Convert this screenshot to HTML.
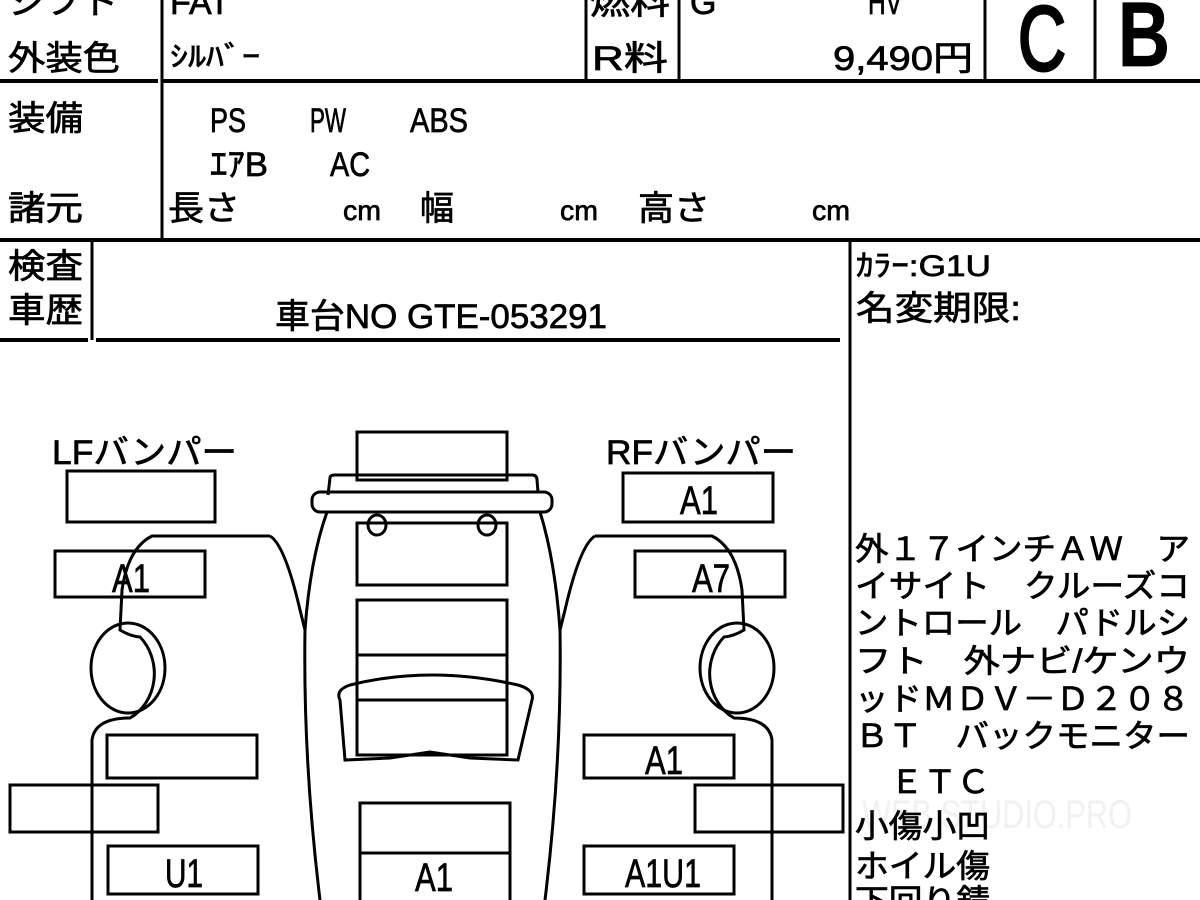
<!DOCTYPE html>
<html><head><meta charset="utf-8"><style>
html,body{margin:0;padding:0;background:#fff;}
svg{display:block}
text{font-family:"Liberation Sans","Noto Sans CJK JP",sans-serif;fill:#000;stroke:#000;stroke-width:0.7;}
</style></head><body>
<svg width="1200" height="900" viewBox="0 0 1200 900" xmlns="http://www.w3.org/2000/svg">
<g stroke="#000" fill="none">
<line x1="0" y1="81" x2="158" y2="81" stroke-width="4"/>
<line x1="162" y1="81" x2="1200" y2="81" stroke-width="4"/>
<line x1="162" y1="0" x2="162" y2="240" stroke-width="3"/>
<line x1="586" y1="0" x2="586" y2="80" stroke-width="3"/>
<line x1="679" y1="0" x2="679" y2="80" stroke-width="3"/>
<line x1="985" y1="0" x2="985" y2="80" stroke-width="3"/>
<line x1="1095" y1="0" x2="1095" y2="80" stroke-width="3"/>
<line x1="0" y1="240" x2="1200" y2="240" stroke-width="4"/>
<line x1="92" y1="240" x2="92" y2="340" stroke-width="3"/>
<line x1="0" y1="340" x2="88" y2="340" stroke-width="4"/>
<line x1="96" y1="340" x2="840" y2="340" stroke-width="4"/>
<line x1="850" y1="240" x2="850" y2="900" stroke-width="3"/>
</g>
<g font-size="34">
<text x="8" y="14" textLength="110" lengthAdjust="spacingAndGlyphs">シフト</text>
<text x="170" y="14" textLength="60" lengthAdjust="spacingAndGlyphs">FAT</text>
<text x="590" y="14" textLength="80" lengthAdjust="spacingAndGlyphs">燃料</text>
<text x="690" y="14">G</text>
<text x="868" y="14" textLength="34" lengthAdjust="spacingAndGlyphs">HV</text>
<text x="8" y="70" textLength="112" lengthAdjust="spacingAndGlyphs">外装色</text>
<text x="170" y="66" font-size="28" textLength="90" lengthAdjust="spacingAndGlyphs">ｼﾙﾊﾞｰ</text>
<text x="592" y="70" textLength="76" lengthAdjust="spacingAndGlyphs">R料</text>
<text x="833" y="70" textLength="140" lengthAdjust="spacingAndGlyphs">9,490円</text>
<text x="8" y="130" textLength="75" lengthAdjust="spacingAndGlyphs">装備</text>
<text x="210" y="132" textLength="36" lengthAdjust="spacingAndGlyphs">PS</text>
<text x="310" y="132" textLength="36" lengthAdjust="spacingAndGlyphs">PW</text>
<text x="410" y="132" textLength="58" lengthAdjust="spacingAndGlyphs">ABS</text>
<text x="210" y="176" textLength="58" lengthAdjust="spacingAndGlyphs">ｴｱB</text>
<text x="330" y="176" textLength="40" lengthAdjust="spacingAndGlyphs">AC</text>
<text x="8" y="220" textLength="75" lengthAdjust="spacingAndGlyphs">諸元</text>
<text x="168" y="220" textLength="72" lengthAdjust="spacingAndGlyphs">長さ</text>
<text x="343" y="220" font-size="28" textLength="38" lengthAdjust="spacingAndGlyphs">cm</text>
<text x="420" y="220" textLength="34" lengthAdjust="spacingAndGlyphs">幅</text>
<text x="560" y="220" font-size="28" textLength="38" lengthAdjust="spacingAndGlyphs">cm</text>
<text x="638" y="220" textLength="72" lengthAdjust="spacingAndGlyphs">高さ</text>
<text x="812" y="220" font-size="28" textLength="38" lengthAdjust="spacingAndGlyphs">cm</text>
<text x="8" y="278" textLength="75" lengthAdjust="spacingAndGlyphs">検査</text>
<text x="8" y="322" textLength="75" lengthAdjust="spacingAndGlyphs">車歴</text>
<text x="275" y="328" textLength="332" lengthAdjust="spacingAndGlyphs">車台NO GTE-053291</text>
<text x="856" y="276" font-size="30" textLength="135" lengthAdjust="spacingAndGlyphs">ｶﾗｰ:G1U</text>
<text x="856" y="320" textLength="165" lengthAdjust="spacingAndGlyphs">名変期限:</text>
</g>
<text x="1018" y="70" font-size="92" textLength="48" lengthAdjust="spacingAndGlyphs" style="stroke-width:3">C</text>
<text x="1118" y="66" font-size="92" textLength="52" lengthAdjust="spacingAndGlyphs" font-weight="bold">B</text>
<text x="862" y="828" font-size="40" textLength="270" lengthAdjust="spacingAndGlyphs" style="fill:#f1f1f1;stroke:none">WEB STUDIO.PRO</text>
<g font-size="32" style="stroke-width:1">
<text x="855" y="560" textLength="335" lengthAdjust="spacingAndGlyphs">外１７インチＡＷ　ア</text>
<text x="855" y="597" textLength="335" lengthAdjust="spacingAndGlyphs">イサイト　クルーズコ</text>
<text x="855" y="634" textLength="335" lengthAdjust="spacingAndGlyphs">ントロール　パドルシ</text>
<text x="855" y="672" textLength="335" lengthAdjust="spacingAndGlyphs">フト　外ナビ/ケンウ</text>
<text x="855" y="710" textLength="335" lengthAdjust="spacingAndGlyphs">ッドＭＤＶ－Ｄ２０８</text>
<text x="855" y="747" textLength="335" lengthAdjust="spacingAndGlyphs">ＢＴ　バックモニター</text>
<text x="890" y="793" textLength="100" lengthAdjust="spacingAndGlyphs">ＥＴＣ</text>
<text x="855" y="837" textLength="135" lengthAdjust="spacingAndGlyphs">小傷小凹</text>
<text x="855" y="877" textLength="135" lengthAdjust="spacingAndGlyphs">ホイル傷</text>
<text x="855" y="912" textLength="135" lengthAdjust="spacingAndGlyphs">下回り錆</text>
</g>
<g font-size="34">
<text x="52" y="464" textLength="185" lengthAdjust="spacingAndGlyphs">LFバンパー</text>
<text x="606" y="464" textLength="190" lengthAdjust="spacingAndGlyphs">RFバンパー</text>
</g>
<g stroke="#000" stroke-width="3" fill="none">
<rect x="67" y="471" width="148" height="51"/>
<rect x="623" y="473" width="150" height="49"/>
<rect x="357" y="432" width="150" height="48"/>
<rect x="357" y="523" width="150" height="62"/>
<rect x="357" y="600" width="150" height="55"/>
<rect x="357" y="655" width="150" height="45"/>
<rect x="357" y="700" width="150" height="55"/>
<rect x="55" y="551" width="150" height="46"/>
<rect x="635" y="551" width="150" height="46"/>
<rect x="107" y="735" width="150" height="43"/>
<rect x="584" y="735" width="150" height="43"/>
<rect x="10" y="785" width="148" height="47"/>
<rect x="695" y="785" width="148" height="47"/>
<rect x="108" y="846" width="150" height="48"/>
<rect x="584" y="846" width="150" height="48"/>
<rect x="360" y="803" width="150" height="50"/>
<rect x="360" y="853" width="150" height="50"/>
<path d="M328 495 L330 478 Q330 475 335 475 L532 475 Q537 475 537 480 L538 492"/>
<rect x="312" y="492" width="240" height="20" rx="8"/>
<ellipse cx="377" cy="525" rx="9" ry="10"/>
<ellipse cx="487" cy="525" rx="9" ry="10"/>
<path d="M340 700 Q335 690 350 685 Q430 665 518 685 Q535 690 532 700 L518 760 L470 758 L430 752 L390 758 L345 760 Z"/>
<path d="M327 512 Q310 560 305 630 Q303 760 320 900"/>
<path d="M540 512 Q555 560 560 630 Q562 760 545 900"/>
<path d="M270 536 L152 536 Q128 548 122 590 L120 630 Q130 636 140 637 A45 50 0 0 1 130 718 Q95 718 92 740 L92 900"/>
<path d="M270 536 Q285 545 300 610 L305 630"/>
<ellipse cx="128" cy="668" rx="37" ry="45"/>
<path d="M595 536 L712 536 Q736 548 742 590 L744 630 Q734 636 724 637 A45 50 0 0 0 734 718 Q769 718 772 740 L772 900"/>
<path d="M595 536 Q580 545 565 610 L560 630"/>
<ellipse cx="737" cy="668" rx="37" ry="45"/>
</g>
<g font-size="40" style="stroke-width:0.8">
<text x="680" y="514" textLength="38" lengthAdjust="spacingAndGlyphs">A1</text>
<text x="112" y="592" textLength="38" lengthAdjust="spacingAndGlyphs">A1</text>
<text x="692" y="592" textLength="38" lengthAdjust="spacingAndGlyphs">A7</text>
<text x="645" y="774" textLength="38" lengthAdjust="spacingAndGlyphs">A1</text>
<text x="165" y="887" textLength="38" lengthAdjust="spacingAndGlyphs">U1</text>
<text x="625" y="887" textLength="76" lengthAdjust="spacingAndGlyphs">A1U1</text>
<text x="415" y="891" textLength="38" lengthAdjust="spacingAndGlyphs">A1</text>
</g>
</svg>
</body></html>
